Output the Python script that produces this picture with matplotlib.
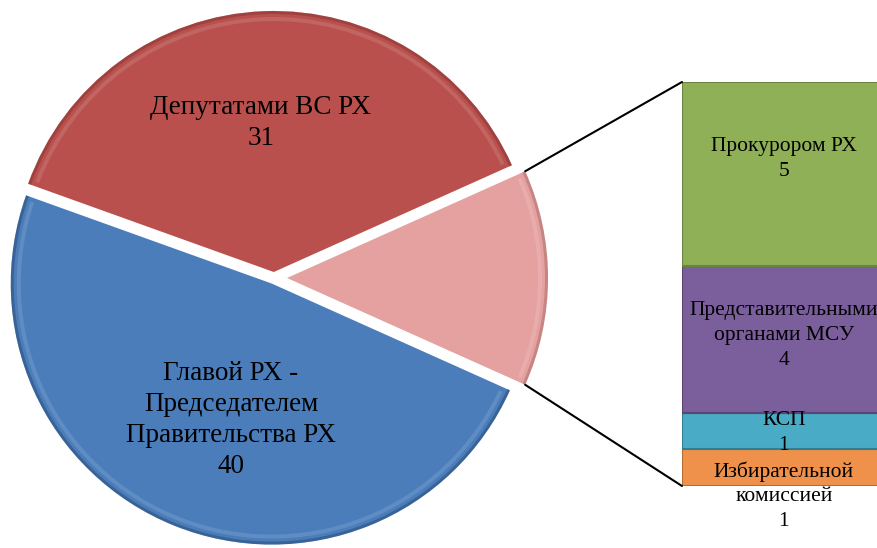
import matplotlib.pyplot as plt
from matplotlib.patches import ConnectionPatch, Wedge
import numpy as np

plt.rcParams['font.family'] = ['Liberation Serif', 'DejaVu Serif']

# pie: "other" slice first, then counter-clockwise
pie_labels = ['', 'Депутатами ВС РХ', 'Главой РХ -\nПредседателем\nПравительства РХ']
pie_values = [11, 31, 40]
pie_colors = ['#E4A1A0', '#B9504D', '#4A7DBA']
pie_dark = ['#9A5A5A', '#7A2E2C', '#213E63']

# breakdown of the "other" slice, bottom to top
bar_labels = ['Избирательной\nкомиссией', 'КСП', 'Представительными\nорганами МСУ', 'Прокурором РХ']
bar_values = [1, 1, 4, 5]
bar_colors = ['#F0914B', '#49ABC5', '#7B5E9C', '#8FB056']
bar_edges = ['#B86A30', '#2F7E93', '#5A4474', '#6A8540']

W, H = 877, 548
fig = plt.figure(figsize=(W / 100, H / 100), dpi=100)

ax = fig.add_axes([0, 0, 1, 1])

total = sum(pie_values)
start = -180 * pie_values[0] / total
wedges, _ = ax.pie(pie_values, colors=pie_colors, startangle=start,
                   counterclock=True, center=(274, 270), radius=261,
                   explode=[13, 6, 6],
                   wedgeprops=dict(linewidth=0),
                   frame=True)
ax.set_xlim(0, W)
ax.set_ylim(0, H)
ax.set_aspect('equal')
ax.axis('off')

# soft bevel: dark rim on the outer arc, light band just inside it
for w, dk in zip(wedges, pie_dark):
    ax.add_patch(Wedge(w.center, w.r, w.theta1, w.theta2, width=3,
                       facecolor=dk, edgecolor='none', alpha=0.4))
    ax.add_patch(Wedge(w.center, w.r - 6, w.theta1 + 1, w.theta2 - 1, width=4,
                       facecolor='white', edgecolor='none', alpha=0.12))

# slice labels
ax.text(261, 425, f'{pie_labels[1]}\n{pie_values[1]}', ha='center', va='center',
        fontsize=19.5, linespacing=1.3)
ax.text(231, 128, f'{pie_labels[2]}\n{pie_values[2]}', ha='center', va='center',
        fontsize=19.5, linespacing=1.32)

# stacked bar
bx = fig.add_axes([682 / W, 62 / H, 198 / W, 404 / H])
bottoms = np.concatenate([[0], np.cumsum(bar_values)[:-1]])
bx.bar(0, bar_values, bottom=bottoms, width=1, color=bar_colors,
       edgecolor=bar_edges, linewidth=1.5)
bx.set_xlim(-0.5, 0.5)
bx.set_ylim(0, sum(bar_values))
bx.axis('off')

offsets = [0, -0.05, 0.1, 0.4]
for lab, v, b, off in zip(bar_labels, bar_values, bottoms, offsets):
    if lab.startswith('Избир'):
        bx.text(0.015, b + v * 0.68, f'{lab}\n{v}', ha='center', va='top',
                fontsize=15.5, linespacing=1.4, clip_on=False)
    else:
        bx.text(0.015, b + v / 2 + off, f'{lab}\n{v}', ha='center', va='center',
                fontsize=15.5, linespacing=1.4, clip_on=False)

# connector lines from the "other" slice to the bar
w = wedges[0]
cx, cy = w.center
for ang, yfrac in [(w.theta2, 1), (w.theta1, 0)]:
    px = cx + w.r * np.cos(np.radians(ang))
    py = cy + w.r * np.sin(np.radians(ang))
    con = ConnectionPatch(xyA=(px, py), coordsA=ax.transData,
                          xyB=(0, yfrac), coordsB=bx.transAxes,
                          color='black', linewidth=1.5)
    fig.add_artist(con)

fig.savefig('out.png', dpi=100)
